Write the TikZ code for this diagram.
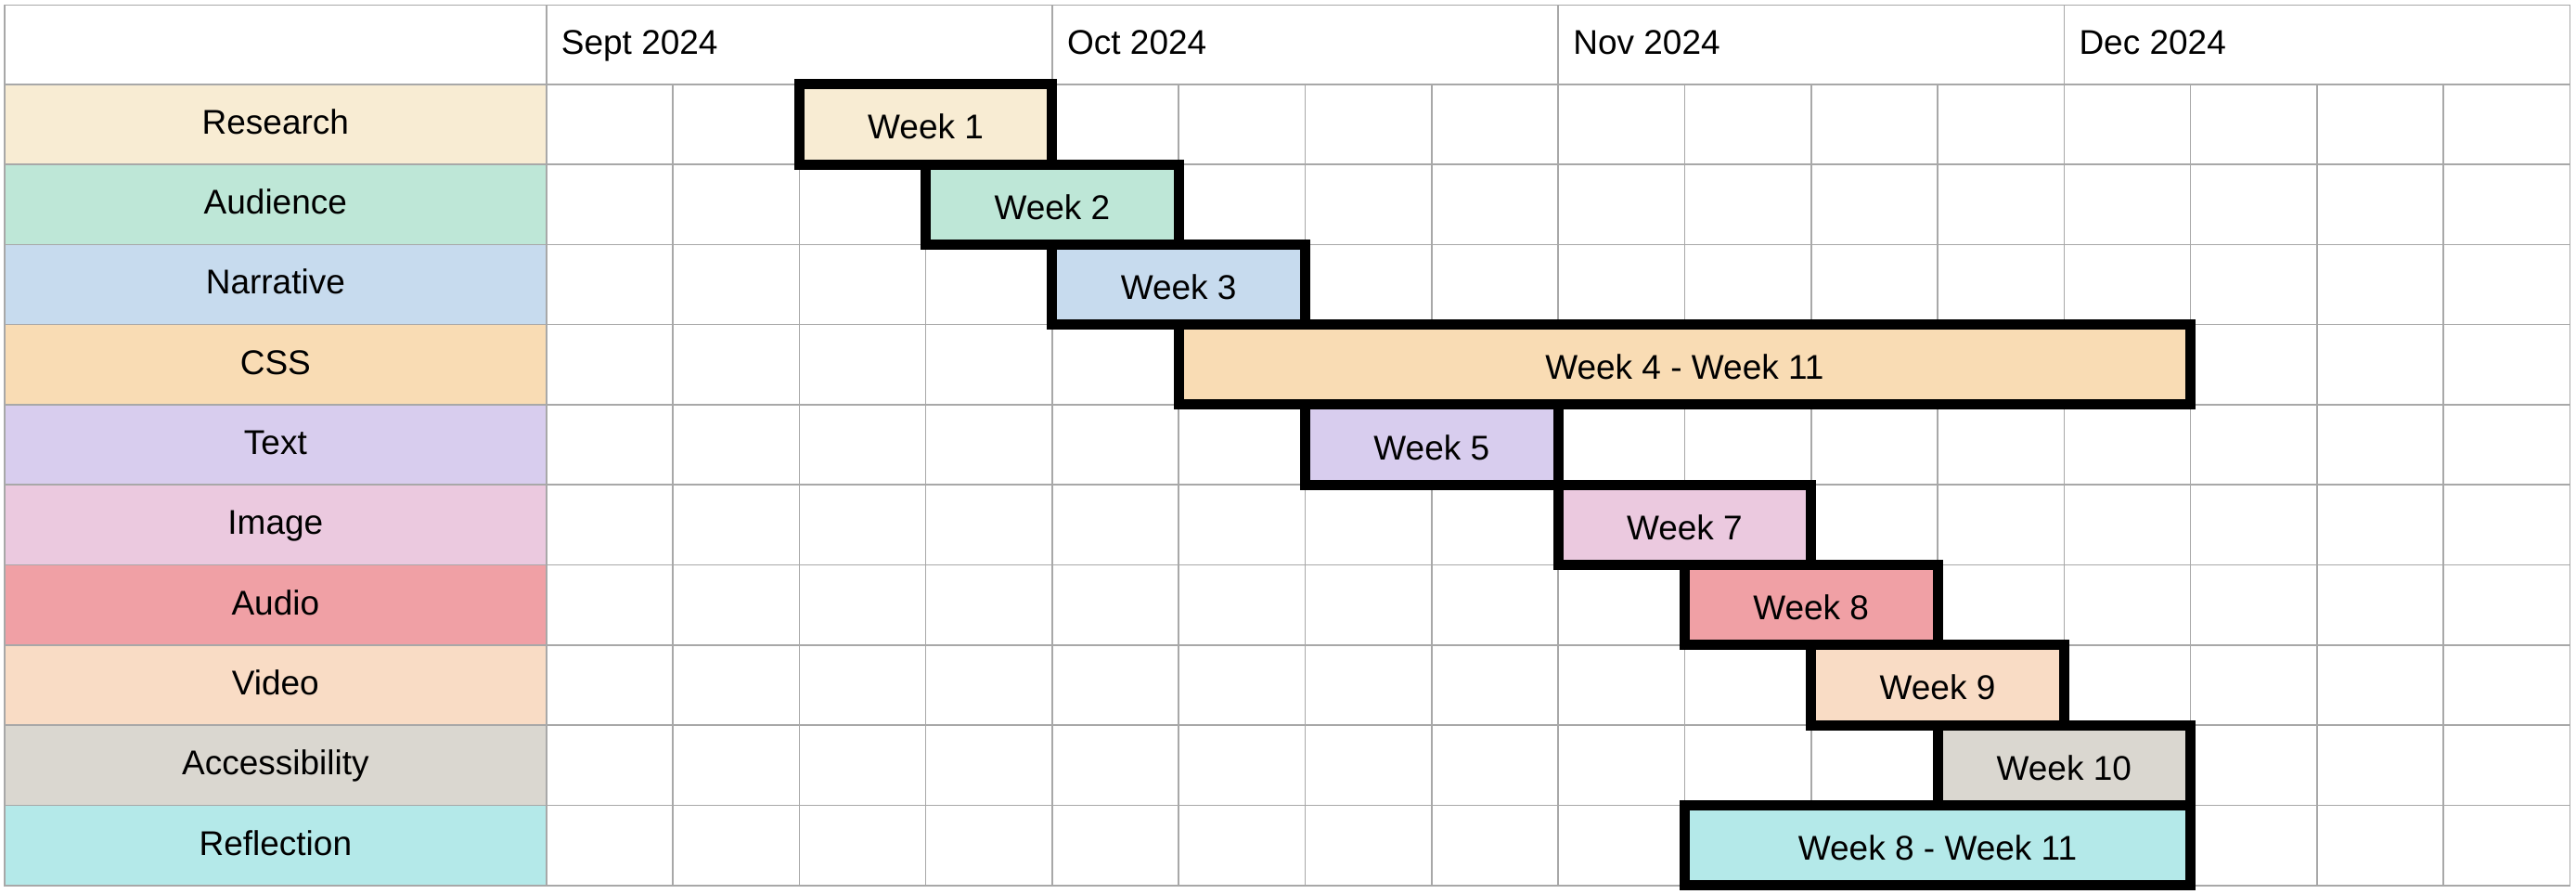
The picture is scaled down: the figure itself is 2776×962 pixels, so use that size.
\documentclass[tikz,border=0pt]{standalone}
\usepackage{fontspec}
\setmainfont{Liberation Sans}
\definecolor{gridgray}{HTML}{A8A8A8}
\definecolor{cresearch}{HTML}{F8ECD3}
\definecolor{caudience}{HTML}{BEE7D7}
\definecolor{cnarrative}{HTML}{C7DBEE}
\definecolor{ccss}{HTML}{F9DCB4}
\definecolor{ctext}{HTML}{D8CDEE}
\definecolor{cimage}{HTML}{EBC9DF}
\definecolor{caudio}{HTML}{F0A0A5}
\definecolor{cvideo}{HTML}{F9DCC5}
\definecolor{caccess}{HTML}{DAD7D0}
\definecolor{creflect}{HTML}{B4E9E9}
\begin{document}
\begin{tikzpicture}[x=1pt,y=-1pt,
  gridline/.style={draw=gridgray, line width=1.6pt},
  txt/.style={font=\fontsize{37}{44}\selectfont, text=black},
  labelcell/.style={txt, rectangle, draw=none, inner sep=0pt,
    minimum width=583.7pt, minimum height=86.3pt, text height=21pt, text depth=0pt},
  barbox/.style={txt, rectangle, draw=black, line width=11pt, inner sep=0pt,
    minimum height=86.3pt, text height=32pt, text depth=0pt},
  monthtxt/.style={txt, inner sep=0pt, anchor=base west}]
\useasboundingbox (0,0) rectangle (2776,962);
\fill[white] (0,0) rectangle (2776,962);
% left column cells
\foreach \c/\t [count=\i] in {cresearch/Research, caudience/Audience, cnarrative/Narrative,
  ccss/CSS, ctext/Text, cimage/Image, caudio/Audio, cvideo/Video,
  caccess/Accessibility, creflect/Reflection}
  \node[labelcell, fill=\c] (row\i) at (296.85, {90.7+(\i-0.5)*86.3}) {\t};
% grid
\draw[gridline] (4.7,5.3) rectangle (2769.3,954);
\foreach \k in {1,...,10}
  \draw[gridline] (4.7,{90.7+(\k-1)*86.3}) -- (2769.3,{90.7+(\k-1)*86.3});
\foreach \k in {0,...,15}
  \draw[gridline] ({588.7+\k*136.3},90.7) -- ({588.7+\k*136.3},954);
\foreach \k in {0,4,8,12}
  \draw[gridline] ({588.7+\k*136.3},5.3) -- ({588.7+\k*136.3},90.7);
% month headers
\node[monthtxt] (m1) at ({588.7+0*136.3+16},58) {Sept 2024};
\node[monthtxt] (m2) at ({588.7+4*136.3+16},58) {Oct 2024};
\node[monthtxt] (m3) at ({588.7+8*136.3+16},58) {Nov 2024};
\node[monthtxt] (m4) at ({588.7+12*136.3+16},58) {Dec 2024};
% bars
\foreach \r/\s/\e/\c/\t [count=\i] in {1/2/4/cresearch/Week 1, 2/3/5/caudience/Week 2,
  3/4/6/cnarrative/Week 3, 4/5/13/ccss/Week 4 - Week 11, 5/6/8/ctext/Week 5,
  6/8/10/cimage/Week 7, 7/9/11/caudio/Week 8, 8/10/12/cvideo/Week 9,
  9/11/13/caccess/Week 10, 10/9/13/creflect/Week 8 - Week 11}
  \node[barbox, fill=\c, minimum width={(\e-\s)*136.3pt}] (bar\i)
    at ({588.7+(\s+\e)/2*136.3}, {90.7+(\r-0.5)*86.3}) {\t};
\end{tikzpicture}
\end{document}
